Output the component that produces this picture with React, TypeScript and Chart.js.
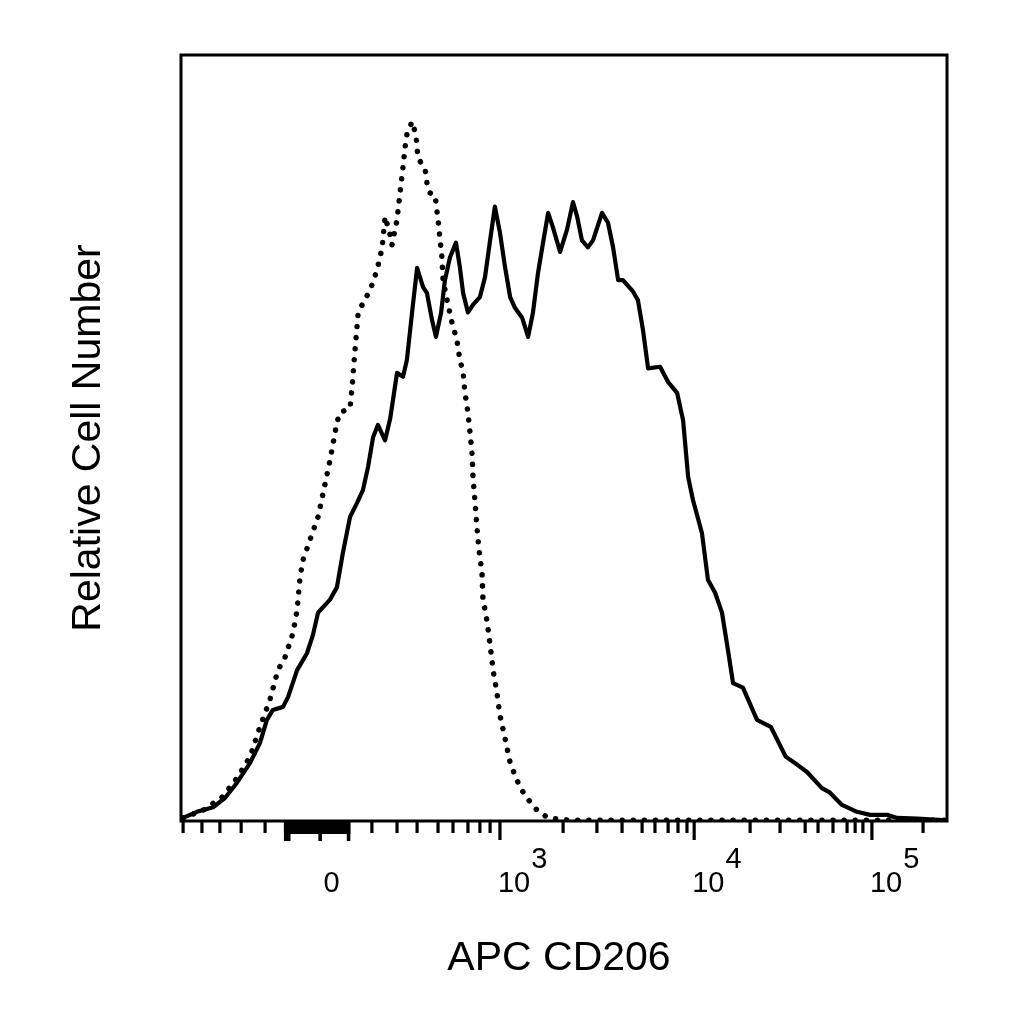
import { useEffect, useRef } from "react";
import { Chart, registerables } from "chart.js";

Chart.register(...registerables);

// x is the display channel of the biexponential APC axis (0-256), y is relative count (0-100)
const isotypeCh = [
  0.7, 7.4, 13.7, 18.7, 23.1, 26.4, 29.7, 32.4, 34.8, 37.4, 38.8, 39.8, 40.8, 43.1, 45.8, 47.5,
  49.8, 52.1, 53.1, 56.5, 57.2, 57.8, 58.5, 59.2, 60.8, 63.2, 65.5, 67.2, 68.2, 69.9, 70.5, 72.2,
  73.2, 74.2, 74.9, 75.5, 77.2, 78.5, 79.2, 81.6, 82.2, 83.2, 84.9, 85.9, 86.6, 87.2, 87.6, 88.9,
  90.6, 92.2, 93.2, 94.3, 94.9, 95.9, 96.6, 97.3, 97.6, 98.3, 98.9, 99.6, 100.6, 100.9, 102.3, 103.3,
  104.3, 105.6, 106.6, 108.3, 110.0, 111.6, 113.3, 115.6, 119.0, 122.7, 130.0, 256,
];
const isotypeCount = [
  0.4, 1.4, 3.1, 5.6, 8.4, 12.3, 15.8, 19.7, 21.4, 24.5, 27.5, 31.9, 34.1, 36.7, 39.7, 42.8,
  47.1, 52.0, 53.3, 53.9, 56.7, 59.8, 63.1, 66.3, 67.6, 69.3, 71.9, 74.8, 78.9, 76.5, 75.2, 78.5,
  82.0, 85.4, 88.0, 89.6, 91.3, 89.6, 86.6, 85.0, 83.3, 82.0, 81.7, 78.5, 75.8, 73.6, 70.6, 68.0,
  65.0, 62.8, 60.2, 58.5, 55.9, 53.3, 50.7, 47.8, 44.8, 41.5, 38.4, 35.4, 32.4, 29.2, 26.0, 23.0,
  19.7, 16.7, 13.8, 10.8, 7.6, 6.0, 4.4, 3.0, 1.4, 0.4, 0.1, 0.1,
];

const cd206Ch = [
  0.7, 5.3, 10.7, 14.7, 18.7, 23.1, 26.4, 28.7, 30.7, 34.1, 35.8, 38.8, 42.1, 44.1, 45.8, 49.8,
  52.1, 54.1, 56.5, 58.8, 60.8, 62.5, 64.2, 65.8, 68.2, 69.9, 72.2, 74.2, 75.5, 77.2, 78.9, 80.9,
  82.2, 83.9, 85.2, 86.9, 88.2, 89.9, 91.9, 93.2, 94.3, 95.9, 97.6, 99.9, 101.6, 103.3, 104.9, 106.6,
  108.3, 110.0, 111.6, 114.0, 116.0, 117.6, 119.3, 121.0, 122.7, 124.3, 126.7, 129.0, 131.0, 132.4,
  134.0, 136.0, 137.7, 140.7, 142.7, 144.4, 146.1, 147.7, 151.1, 152.7, 154.4, 156.1, 160.1, 162.8,
  165.8, 167.8, 169.5, 171.1, 174.1, 176.1, 178.5, 180.8, 182.8, 184.5, 187.8, 192.5, 197.1, 202.1,
  206.1, 209.2, 214.2, 216.9, 220.9, 225.9, 230.3, 236.0, 239.3, 246.0, 256,
];
const cd206Count = [
  0.4, 1.2, 1.8, 3.0, 5.0, 7.6, 10.2, 13.2, 14.5, 14.9, 16.2, 19.7, 21.9, 24.3, 27.2, 28.9,
  30.5, 35.0, 39.7, 41.5, 43.2, 46.2, 50.1, 51.7, 49.7, 52.5, 58.5, 58.0, 60.2, 66.3, 72.2, 69.7,
  68.9, 65.4, 63.2, 66.3, 70.6, 73.6, 75.5, 72.3, 68.9, 66.4, 67.4, 68.4, 71.0, 75.8, 80.2, 76.8,
  72.3, 68.4, 67.0, 65.7, 63.2, 66.3, 71.5, 75.5, 79.4, 77.5, 74.3, 77.2, 80.8, 78.9,
  75.8, 74.9, 75.8, 79.4, 78.1, 74.9, 70.6, 70.6, 69.1, 68.0, 64.1, 59.1, 59.3, 57.3,
  55.9, 52.3, 44.9, 41.9, 37.6, 31.5, 29.8, 27.2, 22.3, 18.0, 17.4, 13.2, 12.3, 8.4,
  7.3, 6.4, 4.3, 3.7, 2.1, 1.2, 0.8, 0.8, 0.4, 0.3, 0.1,
];

// axis ticks, in display channels
const minorTickCh = [
  0.7, 7.0, 13.0, 20.1, 28.1, 63.8, 72.2, 78.9, 85.9, 90.9, 95.9, 99.9, 103.3, 127.7, 139.0, 147.4,
  154.1, 158.4, 162.8, 166.1, 169.1, 190.2, 200.2, 208.6, 212.9, 217.9, 222.6, 225.3, 227.9, 248.0,
];
const majorTickCh = [106.6, 171.5, 230.9];
const zeroBlockCh = [35, 36, 37, 38, 39, 40, 41, 42, 43, 44, 45, 46, 47, 48, 49, 50, 51, 52, 53, 54, 55, 56];
const zeroBlockLongCh = [35, 36, 46.5, 56];
const tickLabelCh = [50.3, 106.6, 171.5, 230.9];
const tickLabelBase = ["0", "10", "10", "10"];
const tickLabelExp = ["", "3", "4", "5"];

const xTitle = "APC CD206";
const yTitle = "Relative Cell Number";

const FONT = "'Liberation Sans', Arial, Helvetica, sans-serif";

const framePlugin = {
  id: "flowFrame",
  afterDraw(chart: Chart) {
    const { ctx, chartArea } = chart;
    const xs = chart.scales.x;
    const { left, right, top, bottom } = chartArea;
    ctx.save();
    ctx.strokeStyle = "#000";
    ctx.lineWidth = 3;
    ctx.strokeRect(left, top, right - left, bottom - top);

    const tick = (ch: number, len: number) => {
      const px = xs.getPixelForValue(ch);
      ctx.beginPath();
      ctx.moveTo(px, bottom);
      ctx.lineTo(px, bottom + len);
      ctx.stroke();
    };
    ctx.lineWidth = 3.2;
    minorTickCh.forEach((c) => tick(c, 12));
    majorTickCh.forEach((c) => tick(c, 19));
    ctx.lineWidth = 3.6;
    zeroBlockCh.forEach((c) => tick(c, 13));
    zeroBlockLongCh.forEach((c) => tick(c, 20));

    ctx.fillStyle = "#000";
    ctx.font = `29px ${FONT}`;
    ctx.textBaseline = "alphabetic";
    tickLabelCh.forEach((c, i) => {
      const px = xs.getPixelForValue(c);
      if (!tickLabelExp[i]) {
        ctx.textAlign = "center";
        ctx.fillText(tickLabelBase[i], px, bottom + 71);
      } else {
        ctx.textAlign = "left";
        const x0 = px - 2;
        ctx.fillText(tickLabelBase[i], x0, bottom + 71);
        const w = ctx.measureText(tickLabelBase[i]).width;
        ctx.fillText(tickLabelExp[i], x0 + w + 1, bottom + 47);
      }
    });

    ctx.font = `41px ${FONT}`;
    ctx.textAlign = "center";
    ctx.fillText(xTitle, (left + right) / 2 - 5, 970);

    ctx.translate(100, (top + bottom) / 2);
    ctx.rotate(-Math.PI / 2);
    ctx.fillText(yTitle, 0, 0);
    ctx.restore();
  },
};

export default function App() {
  const canvasRef = useRef<HTMLCanvasElement>(null);
  const chartRef = useRef<Chart | null>(null);

  useEffect(() => {
    if (!canvasRef.current) return;
    if (chartRef.current) chartRef.current.destroy();

    chartRef.current = new Chart(canvasRef.current, {
      type: "line",
      data: {
        datasets: [
          {
            label: "Isotype",
            data: isotypeCh.map((x, i) => ({ x, y: isotypeCount[i] })),
            borderColor: "#000",
            borderWidth: 5.5,
            borderDash: [0.1, 11],
            borderCapStyle: "round",
            pointRadius: 0,
            tension: 0,
            fill: false,
          },
          {
            label: "CD206",
            data: cd206Ch.map((x, i) => ({ x, y: cd206Count[i] })),
            borderColor: "#000",
            borderWidth: 4.2,
            borderJoinStyle: "round",
            pointRadius: 0,
            tension: 0,
            fill: false,
          },
        ],
      },
      options: {
        responsive: false,
        animation: false,
        devicePixelRatio: 1,
        layout: { padding: { left: 181, right: 77, top: 55, bottom: 203 } },
        plugins: {
          legend: { display: false },
          tooltip: { enabled: false },
        },
        scales: {
          x: { type: "linear", display: false, min: 0, max: 256 },
          y: { type: "linear", display: false, min: 0, max: 100 },
        },
      },
      plugins: [framePlugin],
    });

    return () => {
      if (chartRef.current) {
        chartRef.current.destroy();
        chartRef.current = null;
      }
    };
  }, []);

  return (
    <div style={{ position: "fixed", left: 0, top: 0, width: 1024, height: 1024, background: "#fff" }}>
      <canvas ref={canvasRef} width={1024} height={1024} />
    </div>
  );
}
